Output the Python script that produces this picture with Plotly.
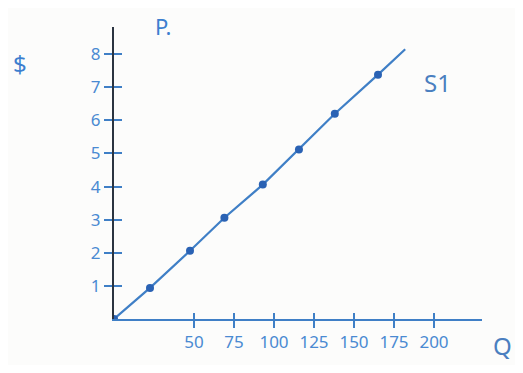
import plotly.graph_objects as go

# Supply curve S1 (hand-drawn)
quantity = [0, 22.5, 47.5, 69, 93, 115.6, 138, 165, 182]
price = [0, 0.94, 2.06, 3.06, 4.06, 5.12, 6.2, 7.38, 8.15]
dot_quantity = [0, 22.5, 47.5, 69, 93, 115.6, 138, 165]
dot_price = [0, 0.94, 2.06, 3.06, 4.06, 5.12, 6.2, 7.38]

x_ticks = [50, 75, 100, 125, 150, 175, 200]
x_tick_labels = ["50", "75", "100", "125", "150", "175", "200"]
y_ticks = [1, 2, 3, 4, 5, 6, 7, 8]
y_tick_labels = ["1", "2", "3", "4", "5", "6", "7", "8"]

ink = "#3f7fc6"
dark_ink = "#2a62b4"
font = dict(family="Noto Sans", size=17, color="#4a8ad2")

# page body has an 8px margin; compensate so the plot lands where intended
OFF = 8
W, H = 507, 357
L, T, R, B = 106, 19, 33, 38
pw = W - L - R
ph = H - T - B

def px(x):
    return (x - OFF - L) / pw

def py(y):
    return 1 - (y - OFF - T) / ph

fig = go.Figure()
fig.add_trace(go.Scatter(x=quantity, y=price, mode="lines",
                         line=dict(color=ink, width=2.2), showlegend=False,
                         hoverinfo="skip"))
fig.add_trace(go.Scatter(x=dot_quantity, y=dot_price, mode="markers",
                         marker=dict(color=dark_ink, size=8, symbol="circle"),
                         showlegend=False))
fig.add_trace(go.Scatter(x=[0], y=[0], xaxis="x2", yaxis="y2", mode="markers",
                         marker=dict(opacity=0), showlegend=False, hoverinfo="skip"))

xr = [0, 230]
yr = [0, 8.82]

def ann(text, x, y, size, color):
    return dict(text=text, x=px(x), y=py(y), xref="paper", yref="paper",
                xanchor="center", yanchor="middle", showarrow=False,
                font=dict(family="Noto Sans", size=size, color=color))

fig.update_layout(
    width=W, height=H,
    margin=dict(l=L, r=R, t=T, b=B),
    paper_bgcolor="#fcfcfb", plot_bgcolor="#fcfcfb",
    xaxis=dict(range=xr, tickvals=x_ticks, ticktext=x_tick_labels,
               showgrid=False, zeroline=False, showline=True,
               linecolor=ink, linewidth=2, ticks="outside", ticklen=7,
               tickwidth=2, tickcolor=ink, tickfont=font, fixedrange=True),
    yaxis=dict(range=yr, tickvals=y_ticks, ticktext=y_tick_labels,
               showgrid=False, zeroline=False, showline=True,
               linecolor="#2b3440", linewidth=2, ticks="outside", ticklen=8,
               tickwidth=2, tickcolor=ink, tickfont=font, fixedrange=True),
    xaxis2=dict(range=xr, overlaying="x", anchor="y", tickvals=x_ticks,
                showticklabels=False, showgrid=False, zeroline=False,
                ticks="inside", ticklen=6, tickwidth=2, tickcolor=ink,
                side="bottom", showline=False),
    yaxis2=dict(range=yr, overlaying="y", anchor="x", tickvals=y_ticks,
                showticklabels=False, showgrid=False, zeroline=False,
                ticks="inside", ticklen=8, tickwidth=2, tickcolor=ink,
                side="left", showline=False),
    annotations=[
        ann("S1", 437, 84, 24, "#4a7fc0"),
        ann("Q", 502, 354, 24, "#4a7fc0"),
        ann("P.", 163, 26, 22, "#3d7fcf"),
        ann("$", 20, 64, 24, "#3d7fcf"),
    ],
)

fig.write_html("out.html")
